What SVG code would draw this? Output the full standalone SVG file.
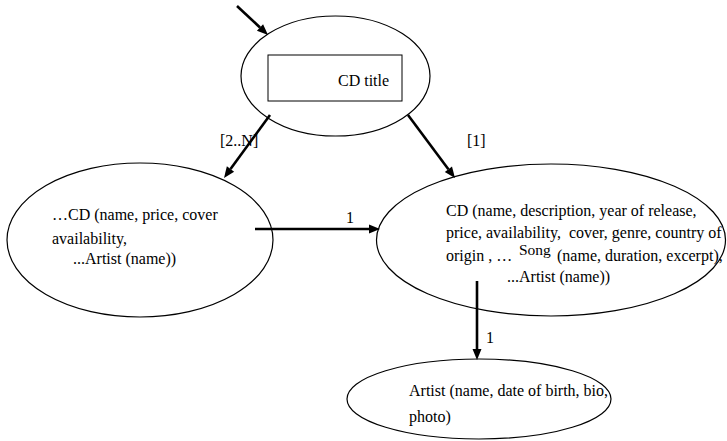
<svg xmlns="http://www.w3.org/2000/svg" width="727" height="441" viewBox="0 0 727 441">
  <style>
    .node { fill: #ffffff; stroke: #000000; stroke-width: 1.2; }
    .box { fill: #ffffff; stroke: #000000; stroke-width: 1; }
    .lbl { font-family: "Liberation Serif", "Times New Roman", serif; font-size: 16px; fill: #000000; white-space: pre; }
    .sup { font-size: 15.5px; }
    .edge { stroke: #000000; stroke-width: 2.6; fill: none; marker-end: url(#head); }
  </style>
  <defs>
    <marker id="head" markerUnits="userSpaceOnUse" markerWidth="12" markerHeight="10" refX="0" refY="5" orient="auto" overflow="visible">
      <path d="M0,0.5 L11,5 L0,9.5 z" fill="#000000"/>
    </marker>
  </defs>
  <rect width="727" height="441" fill="#ffffff"/>

  <!-- Root: CD title -->
  <g id="node-cd-title">
    <ellipse class="node" cx="335.5" cy="76" rx="94.5" ry="60"/>
    <rect class="box" x="268" y="55" width="134" height="46"/>
    <text class="lbl" x="338" y="86">CD title</text>
  </g>

  <!-- List of CDs -->
  <g id="node-cd-list">
    <ellipse class="node" cx="140" cy="240" rx="133" ry="77"/>
    <text class="lbl" x="52" y="220">…CD (name, price, cover</text>
    <text class="lbl" x="52" y="244">availability,</text>
    <text class="lbl" x="73" y="264">...Artist (name))</text>
  </g>

  <!-- CD detail -->
  <g id="node-cd-detail">
    <ellipse class="node" cx="551" cy="240" rx="174.5" ry="76"/>
    <text class="lbl" x="446" y="216">CD (name, description, year of release,</text>
    <text class="lbl" x="446" y="238" xml:space="preserve">price, availability,  cover, genre, country of</text>
    <text class="lbl" x="446" y="261">origin , …</text>
    <text class="lbl sup" x="519" y="255">Song</text>
    <text class="lbl" x="557" y="261">(name, duration, excerpt),</text>
    <text class="lbl" x="507" y="282">...Artist (name))</text>
  </g>

  <!-- Artist -->
  <g id="node-artist">
    <ellipse class="node" cx="479" cy="399" rx="132" ry="40"/>
    <text class="lbl" x="409" y="396">Artist (name, date of birth, bio,</text>
    <text class="lbl" x="409" y="422">photo)</text>
  </g>

  <!-- Connectors -->
  <g id="connectors">
    <line class="edge" x1="237" y1="6" x2="260" y2="27.5"/>
    <line class="edge" x1="270" y1="115" x2="230.5" y2="169"/>
    <line class="edge" x1="408" y1="115" x2="448.4" y2="169.2"/>
    <line class="edge" x1="255" y1="229" x2="369" y2="229"/>
    <line class="edge" x1="477" y1="281" x2="477" y2="349"/>
    <text class="lbl" x="220" y="146">[2..N]</text>
    <text class="lbl" x="467" y="146">[1]</text>
    <text class="lbl" x="346" y="223">1</text>
    <text class="lbl" x="486" y="343">1</text>
  </g>
</svg>
